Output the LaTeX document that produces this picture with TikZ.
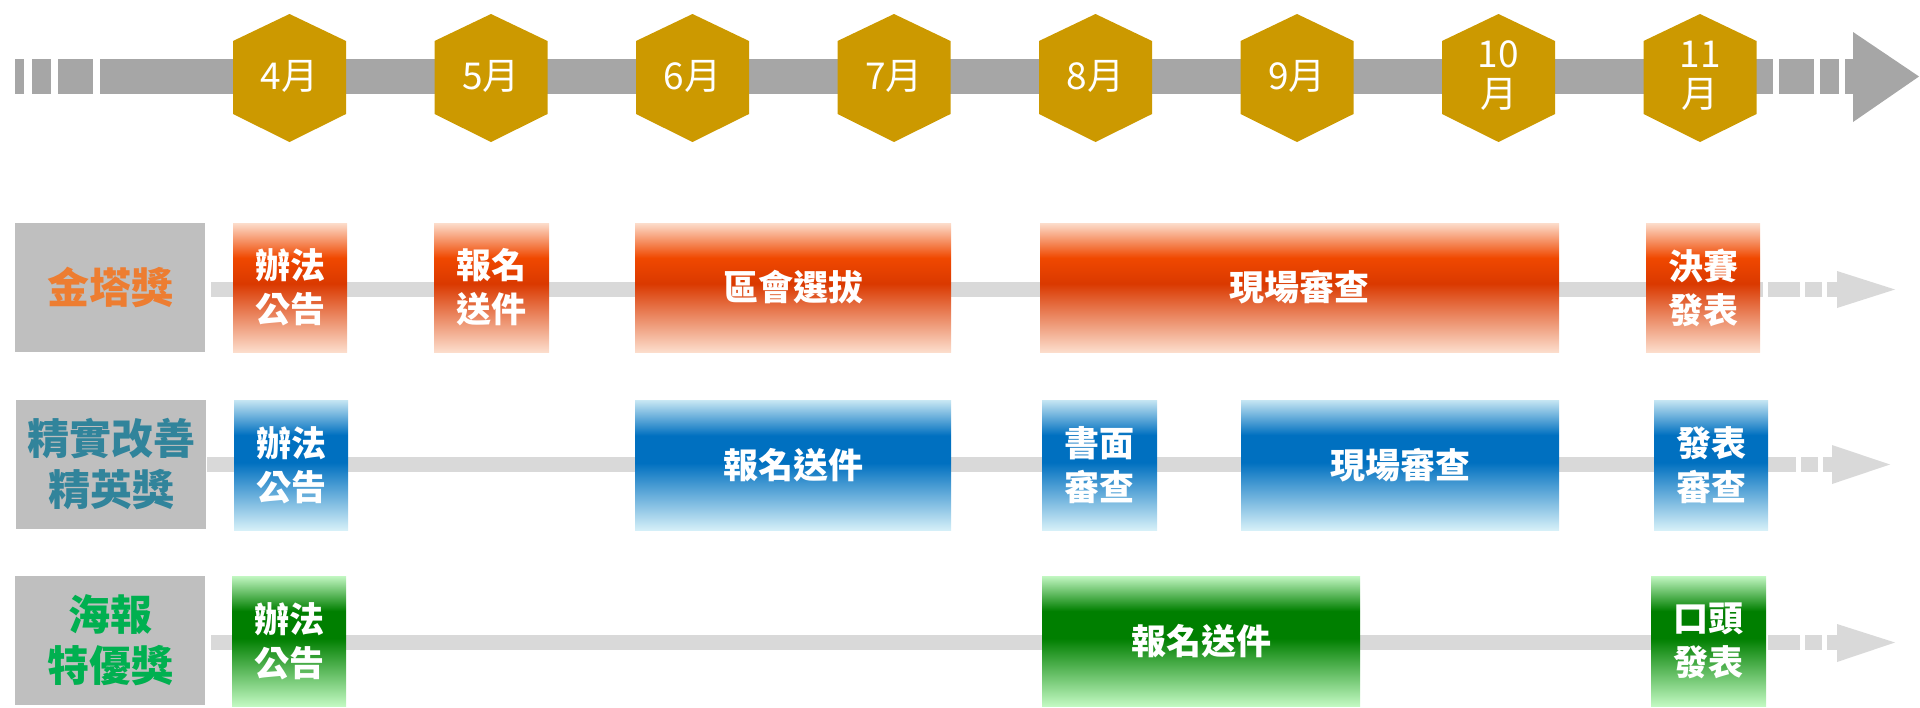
\documentclass[tikz,border=0pt]{standalone}
\usepackage{fontspec}
\setmainfont{Noto Sans CJK TC}
\definecolor{barg}{HTML}{A6A6A6}
\definecolor{rowg}{HTML}{D9D9D9}
\definecolor{hexgold}{HTML}{CC9900}
\definecolor{labgrey}{HTML}{BFBFBF}
\definecolor{txtor}{HTML}{ED7D31}
\definecolor{txtteal}{HTML}{31849B}
\definecolor{txtgreen}{HTML}{00B050}
\definecolor{orlite}{HTML}{FCDDCC}
\definecolor{orbright}{HTML}{F04800}
\definecolor{ordark}{HTML}{DA3900}
\definecolor{bltop}{HTML}{C6E6F3}
\definecolor{blmid}{HTML}{0070C0}
\definecolor{blbot}{HTML}{D6F0F8}
\definecolor{grtop}{HTML}{C2F7C2}
\definecolor{grmid}{HTML}{007F00}
\definecolor{grbot}{HTML}{C2F9C2}
% bar shadings: 25bp = bottom of the box, 75bp = top
\pgfdeclareverticalshading{orangebar}{100bp}{color(0bp)=(orlite); color(25bp)=(orlite); color(51.5bp)=(ordark); color(61.5bp)=(orbright); color(75bp)=(orlite); color(100bp)=(orlite)}
\pgfdeclareverticalshading{bluebar}{100bp}{color(0bp)=(blbot); color(25bp)=(blbot); color(51bp)=(blmid); color(61.5bp)=(blmid); color(75bp)=(bltop); color(100bp)=(bltop)}
\pgfdeclareverticalshading{greenbar}{100bp}{color(0bp)=(grbot); color(25bp)=(grbot); color(51bp)=(grmid); color(61.5bp)=(grmid); color(75bp)=(grtop); color(100bp)=(grtop)}
\tikzset{
  month/.style={text=white, align=center, inner sep=0pt, font=\fontsize{18.5}{20}\selectfont},
  lab/.style={fill=labgrey, minimum width=95pt, minimum height=64.5pt, inner sep=0pt, align=center, font=\bfseries\fontsize{21}{25.5}\selectfont},
  task/.style={minimum height=64.5pt, inner sep=0pt, text=white, align=center, font=\bfseries\fontsize{17.5}{22}\selectfont},
  otask/.style={task, shade, shading=orangebar},
  btask/.style={task, shade, shading=bluebar, minimum height=65pt},
  gtask/.style={task, shade, shading=greenbar, minimum height=65pt},
  rowline/.style={rowg, line width=7.5pt},
  rowdash/.style={rowline, dash pattern=on 16pt off 2.5pt on 8.5pt off 2.5pt on 5pt off 50pt}
}
\begin{document}
\begin{tikzpicture}[x=0.5pt,y=-0.5pt]
	\useasboundingbox (0,0) rectangle (1920,707);
	
	% time axis
	\fill[barg] (15,59) rectangle (24,94);
	\fill[barg] (32,59) rectangle (51,94);
	\fill[barg] (58,59) rectangle (93,94);
	\fill[barg] (100,59) rectangle (1773,94);
	\fill[barg] (1779,59) rectangle (1814,94);
	\fill[barg] (1820,59) rectangle (1839,94);
	\fill[barg] (1845,59) rectangle (1854,94);
	\fill[barg] (1853,32) -- (1919,76.5) -- (1853,122) -- cycle;
	
	% months
	\foreach \n/\t [count=\i from 0] in {4/4月, 5/5月, 6/6月, 7/7月, 8/8月, 9/9月, 10/{10\\月}, 11/{11\\月}}{
		\pgfmathsetmacro\cx{289.5+201.5*\i}
		\fill[hexgold] (\cx,14) -- ++(56.5,27) -- ++(0,73) -- ++(-56.5,28) -- ++(-56.5,-28) -- ++(0,-73) -- cycle;
		\node[month] (m\n) at (\cx,76) {\t};
	}
	
	% row lines
	\coordinate (s1) at (211,289.5);
	\coordinate (e1) at (1763,289.5);
	\coordinate (d1) at (1768,289.5);
	\coordinate (t1) at (1837,289.5);
	\draw[rowline] (s1) -- (e1);
	\draw[rowdash] (d1) -- (t1);
	\fill[rowg] (1837,271) -- (1895,289.5) -- (1837,308) -- cycle;
	
	\coordinate (s2) at (207,464.5);
	\coordinate (e2) at (1764,464.5);
	\coordinate (d2) at (1768,464.5);
	\coordinate (t2) at (1832,464.5);
	\draw[rowline] (s2) -- (e2);
	\draw[rowline, dash pattern=on 14pt off 2.5pt on 8.5pt off 2.5pt on 4.5pt off 50pt] (d2) -- (t2);
	\fill[rowg] (1832,445) -- (1890,464.5) -- (1832,484) -- cycle;
	
	\coordinate (s3) at (211,642.5);
	\coordinate (e3) at (1763,642.5);
	\coordinate (d3) at (1768,642.5);
	\coordinate (t3) at (1837,642.5);
	\draw[rowline] (s3) -- (e3);
	\draw[rowdash] (d3) -- (t3);
	\fill[rowg] (1837,624) -- (1895,642.5) -- (1837,662) -- cycle;
	
	% row labels
	\node[lab, text=txtor] (lab1) at (110,287.5) {金塔獎};
	\node[lab, text=txtteal] (lab2) at (111,464.5) {精實改善\\精英獎};
	\node[lab, text=txtgreen] (lab3) at (110,640.5) {海報\\特優獎};
	
	% row 1
	\node[otask, minimum width=57pt] (r1a) at (290,287.5) {辦法\\公告};
	\node[otask, minimum width=57.5pt] (r1b) at (491.5,287.5) {報名\\送件};
	\node[otask, minimum width=158pt] (r1c) at (793,287.5) {區會選拔};
	\node[otask, minimum width=259.5pt] (r1d) at (1299.5,287.5) {現場審查};
	\node[otask, minimum width=57pt] (r1e) at (1703,287.5) {決賽\\發表};
	
	% row 2
	\node[btask, minimum width=57pt] (r2a) at (291,465) {辦法\\公告};
	\node[btask, minimum width=158pt] (r2b) at (793,465.5) {報名送件};
	\node[btask, minimum width=57.5pt] (r2c) at (1099.5,465) {書面\\審查};
	\node[btask, minimum width=159pt] (r2d) at (1400,465) {現場審查};
	\node[btask, minimum width=57pt] (r2e) at (1711,465) {發表\\審查};
	
	% row 3
	\node[gtask, minimum width=57pt] (r3a) at (289,641) {辦法\\公告};
	\node[gtask, minimum width=159pt] (r3b) at (1201,641) {報名送件};
	\node[gtask, minimum width=57.5pt] (r3c) at (1708.5,641) {口頭\\發表};
\end{tikzpicture}
\end{document}
